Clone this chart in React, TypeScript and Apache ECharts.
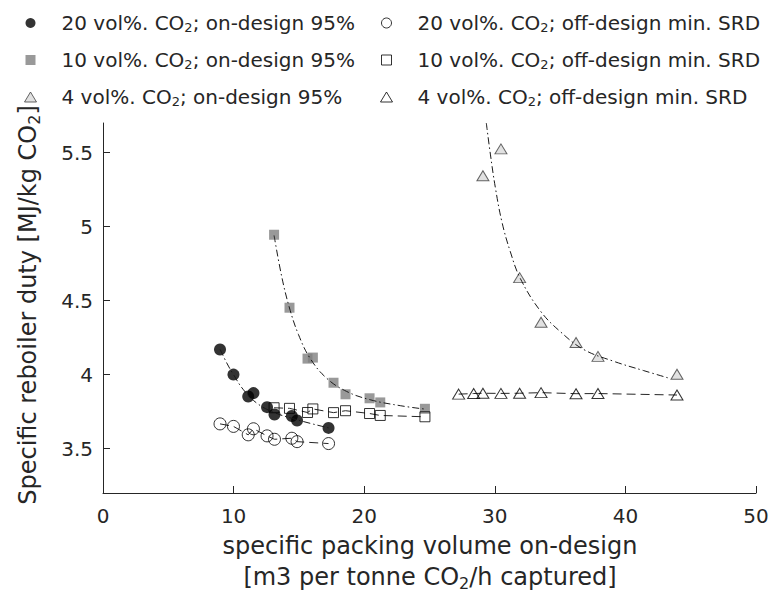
import React, { useEffect, useRef } from 'react';
import * as echarts from 'echarts';

const FONT = '"DejaVu Sans", sans-serif';
const TXT = '#262626';

// axis ticks
const xTicks = [0, 10, 20, 30, 40, 50];
const yTicks = [3.5, 4, 4.5, 5, 5.5];

// series names
const names = [
  '20 vol%. CO2; on-design 95%',
  '10 vol%. CO2; on-design 95%',
  '4 vol%. CO2; on-design 95%',
  '20 vol%. CO2; off-design min. SRD',
  '10 vol%. CO2; off-design min. SRD',
  '4 vol%. CO2; off-design min. SRD',
];

// 20 vol% CO2
const vol20X = [8.96, 9.99, 11.12, 11.52, 12.56, 13.13, 14.46, 14.86, 17.27];
const on20Y = [4.17, 4.0, 3.852, 3.875, 3.78, 3.73, 3.72, 3.69, 3.64];
const off20Y = [3.667, 3.65, 3.593, 3.634, 3.586, 3.563, 3.57, 3.547, 3.534];

// 10 vol% CO2
const vol10X = [13.1, 14.28, 15.66, 16.07, 17.65, 18.57, 20.41, 21.23, 24.65];
const on10Y = [4.945, 4.452, 4.108, 4.115, 3.945, 3.867, 3.84, 3.812, 3.769];
const off10Y = [3.776, 3.772, 3.744, 3.768, 3.743, 3.756, 3.737, 3.724, 3.715];

// 4 vol% CO2 (first two on-design points lie above the plotted range)
const vol4X = [27.23, 28.38, 29.09, 30.47, 31.9, 33.54, 36.22, 37.9, 43.95];
const on4Y = [null, null, 5.344, 5.525, 4.655, 4.354, 4.217, 4.123, 4.002];
const off4Y = [3.868, 3.872, 3.874, 3.873, 3.874, 3.878, 3.871, 3.872, 3.862];

// dash-dot fitted curves
const fit20X = [8.97, 9.48, 9.99, 10.75, 11.78, 13.05, 14.84, 17.27];
const fit20Y = [4.17, 4.078, 4.0, 3.898, 3.807, 3.746, 3.695, 3.64];
const fit10X = [13.1, 13.69, 14.28, 14.97, 15.86, 17.13, 18.66, 20.46, 22.76, 24.65];
const fit10Y = [4.94, 4.66, 4.45, 4.27, 4.11, 3.975, 3.886, 3.83, 3.79, 3.767];
const fit4X = [29.35, 29.66, 30.04, 30.55, 31.19, 31.95, 33.49, 35.02, 36.8, 39.1, 41.4, 43.45];
const fit4Y = [5.7, 5.49, 5.265, 5.03, 4.83, 4.65, 4.43, 4.29, 4.17, 4.09, 4.027, 3.973];

const pairs = (xs: number[], ys: (number | null)[]) =>
  xs.map((x, i) => [x, ys[i]]).filter((p) => p[1] !== null);

const subRich = (size: number, pad: number) => ({
  fontSize: size,
  fontFamily: FONT,
  color: TXT,
  fill: TXT,
  padding: [pad, 0, 0, 0],
});

const SQUARE = 'path://M0,0L10,0L10,10L0,10Z';
const TRI = 'path://M6,0L12,10L0,10Z';

export default function App() {
  const ref = useRef<HTMLDivElement>(null);

  useEffect(() => {
    if (!ref.current) return;
    const chart = echarts.init(ref.current, undefined, { renderer: 'svg' });

    const DASHDOT = [7, 3, 1.5, 3];
    const DASH = [9, 5];

    const legendCommon = {
      orient: 'vertical',
      top: 13,
      padding: 0,
      itemGap: 16,
      itemWidth: 52,
      itemHeight: 10,
      selectedMode: false,
      symbolKeepAspect: true,
      textStyle: {
        fontSize: 20,
        fontFamily: FONT,
        color: TXT,
        rich: { s: subRich(13, 9) },
      },
      formatter: (n: string) => n.replace('CO2', 'CO{s|2}'),
    };

    const option: any = {
      animation: false,
      backgroundColor: '#ffffff',
      grid: { left: 103, right: 16, top: 123, bottom: 103, containLabel: false },
      legend: [
        {
          ...legendCommon,
          left: 24,
          data: [
            { name: names[0], icon: 'circle', itemStyle: { color: '#000', borderWidth: 0 } },
            { name: names[1], icon: SQUARE, itemStyle: { color: '#7f7f7f', borderWidth: 0 } },
            { name: names[2], icon: TRI, itemStyle: { color: '#d9d9d9', borderColor: '#404040', borderWidth: 1 } },
          ],
        },
        {
          ...legendCommon,
          left: 380,
          data: [
            { name: names[3], icon: 'circle', itemStyle: { color: '#fff', borderColor: '#000', borderWidth: 1 } },
            { name: names[4], icon: SQUARE, itemStyle: { color: '#fff', borderColor: '#000', borderWidth: 1 } },
            { name: names[5], icon: TRI, itemStyle: { color: '#fff', borderColor: '#000', borderWidth: 1 } },
          ],
        },
      ],
      xAxis: {
        type: 'value',
        min: xTicks[0],
        max: xTicks[xTicks.length - 1],
        interval: 10,
        splitLine: { show: false },
        axisLine: { lineStyle: { color: TXT, width: 1 } },
        axisTick: { inside: true, length: 7, lineStyle: { color: TXT } },
        axisLabel: { fontSize: 20, fontFamily: FONT, color: TXT, margin: 13 },
      },
      yAxis: {
        type: 'value',
        min: 3.2,
        max: 5.7,
        splitLine: { show: false },
        axisLine: { show: true, lineStyle: { color: TXT, width: 1 } },
        axisTick: { show: true, inside: true, length: 7, lineStyle: { color: TXT }, customValues: yTicks },
        axisLabel: { fontSize: 20, fontFamily: FONT, color: TXT, margin: 10, customValues: yTicks },
      },
      series: [
        // on-design markers
        {
          name: names[0], type: 'scatter', symbol: 'circle', symbolSize: 12,
          itemStyle: { color: '#000' }, data: pairs(vol20X, on20Y), z: 2,
        },
        {
          name: names[1], type: 'scatter', symbol: 'rect', symbolSize: 10,
          itemStyle: { color: '#7f7f7f' }, data: pairs(vol10X, on10Y), z: 2,
        },
        {
          name: names[2], type: 'scatter', symbol: 'triangle', symbolSize: [12, 10],
          itemStyle: { color: '#d9d9d9', borderColor: '#404040', borderWidth: 1 },
          data: pairs(vol4X, on4Y), z: 2,
        },
        // fitted dash-dot curves
        ...[
          [fit20X, fit20Y],
          [fit10X, fit10Y],
          [fit4X, fit4Y],
        ].map(([xs, ys]) => ({
          type: 'line', smooth: 0.4, showSymbol: false, symbol: 'none',
          lineStyle: { color: '#1a1a1a', width: 1, type: DASHDOT },
          data: pairs(xs as number[], ys as number[]), z: 3, silent: true,
        })),
        // off-design dashed lines
        ...[
          [vol20X, off20Y],
          [vol10X, off10Y],
          [vol4X, off4Y],
        ].map(([xs, ys]) => ({
          type: 'line', showSymbol: false, symbol: 'none',
          lineStyle: { color: '#262626', width: 1, type: DASH },
          data: pairs(xs as number[], ys as number[]), z: 3, silent: true,
        })),
        // off-design markers
        {
          name: names[3], type: 'scatter', symbol: 'circle', symbolSize: 12,
          itemStyle: { color: 'rgba(255,255,255,0)', borderColor: '#000', borderWidth: 1 },
          data: pairs(vol20X, off20Y), z: 4,
        },
        {
          name: names[4], type: 'scatter', symbol: 'rect', symbolSize: 10,
          itemStyle: { color: 'rgba(255,255,255,0)', borderColor: '#000', borderWidth: 1 },
          data: pairs(vol10X, off10Y), z: 4,
        },
        {
          name: names[5], type: 'scatter', symbol: 'triangle', symbolSize: [12, 10],
          itemStyle: { color: 'rgba(255,255,255,0)', borderColor: '#000', borderWidth: 1 },
          data: pairs(vol4X, off4Y), z: 4,
        },
      ],
      graphic: [
        {
          type: 'text', x: 28, y: 305, rotation: Math.PI / 2,
          style: {
            text: '{t|Specific reboiler duty [MJ/kg CO}{s|2}{t|]}',
            align: 'center', verticalAlign: 'middle',
            rich: {
              t: { fontSize: 24, fontFamily: FONT, fill: TXT },
              s: subRich(16, 12),
            },
          },
        },
        {
          type: 'text', x: 430, y: 546,
          style: {
            text: 'specific packing volume on-design',
            fontSize: 24, fontFamily: FONT, fill: TXT,
            align: 'center', verticalAlign: 'middle',
          },
        },
        {
          type: 'text', x: 430, y: 577,
          style: {
            text: '{t|[m3 per tonne CO}{s|2}{t|/h captured]}',
            align: 'center', verticalAlign: 'middle',
            rich: {
              t: { fontSize: 24, fontFamily: FONT, fill: TXT },
              s: subRich(16, 12),
            },
          },
        },
      ],
    };

    chart.setOption(option);
    return () => chart.dispose();
  }, []);

  return (
    <div
      ref={ref}
      style={{ position: 'fixed', left: 0, top: 0, width: 772, height: 596, background: '#fff' }}
    />
  );
}
